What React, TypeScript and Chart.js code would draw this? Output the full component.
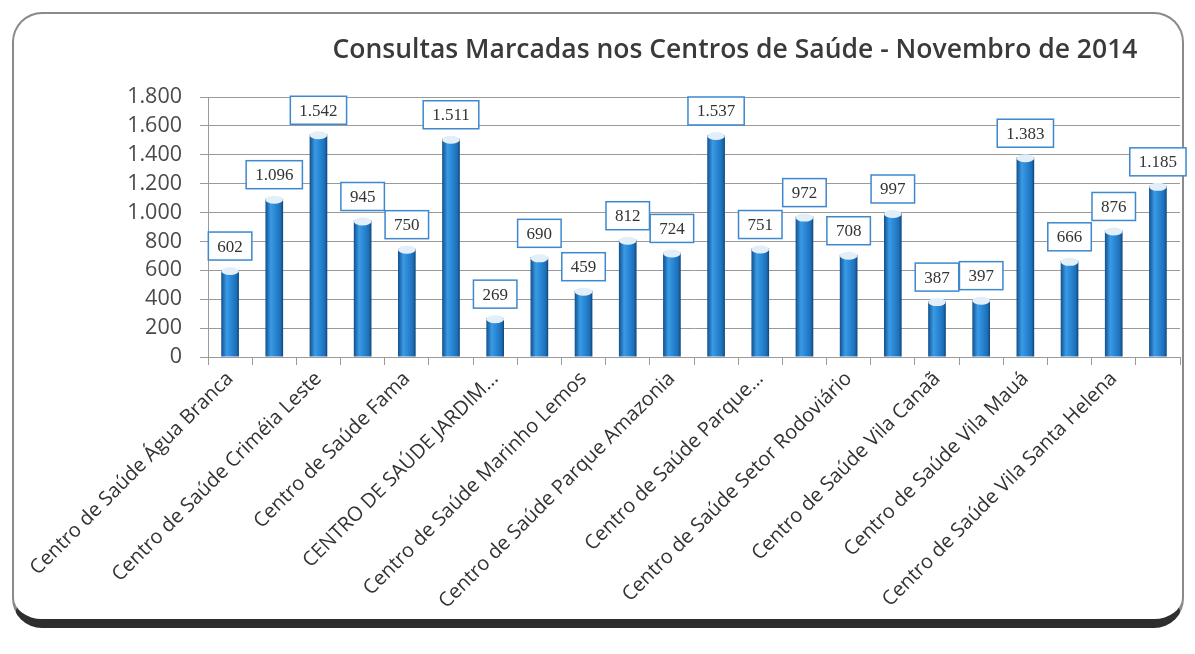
import { useEffect, useRef } from "react";
import { Chart, registerables } from "chart.js";

Chart.register(...registerables);

const TITLE = "Consultas Marcadas nos Centros de Saúde - Novembro de 2014";

// Only every other category name is printed on the axis of the original chart.
const categories = [
  "Centro de Saúde Água Branca", "",
  "Centro de Saúde Criméia Leste", "",
  "Centro de Saúde Fama", "",
  "CENTRO DE SAÚDE JARDIM...", "",
  "Centro de Saúde Marinho Lemos", "",
  "Centro de Saúde Parque Amazonia", "",
  "Centro de Saúde Parque...", "",
  "Centro de Saúde Setor Rodoviário", "",
  "Centro de Saúde Vila Canaã", "",
  "Centro de Saúde Vila Mauá", "",
  "Centro de Saúde Vila Santa Helena", "",
];

const consultas = [
  602, 1096, 1542, 945, 750, 1511, 269, 690, 459, 812, 724,
  1537, 751, 972, 708, 997, 387, 397, 1383, 666, 876, 1185,
];

const yTicks = [0, 200, 400, 600, 800, 1000, 1200, 1400, 1600, 1800];

const fmt = (v: number) =>
  v >= 1000 ? `${Math.floor(v / 1000)}.${String(v % 1000).padStart(3, "0")}` : String(v);

const titlePlugin = {
  id: "offsetTitle",
  afterDraw(chart: any) {
    const { ctx, chartArea } = chart;
    ctx.save();
    ctx.font = "600 26.5px 'Open Sans'";
    ctx.fillStyle = "#3a3a3a";
    ctx.textAlign = "center";
    ctx.textBaseline = "middle";
    ctx.fillText(TITLE, (chartArea.left + chartArea.right) / 2 + 41, 50);
    ctx.restore();
  },
};

const boxesPlugin = {
  id: "valueBoxes",
  afterDatasetsDraw(chart: any) {
    const { ctx } = chart;
    const meta = chart.getDatasetMeta(0);
    ctx.save();
    meta.data.forEach((bar: any, i: number) => {
      const v = consultas[i];
      const w = bar.width;
      // cylinder top
      ctx.beginPath();
      ctx.ellipse(bar.x, bar.y + 1, w / 2, 4, 0, 0, Math.PI * 2);
      ctx.fillStyle = "#e2eff9";
      ctx.fill();
      // label box
      const txt = fmt(v);
      ctx.font = "17px 'Liberation Serif'";
      const tw = ctx.measureText(txt).width;
      const bw = tw + 18;
      const bh = 28;
      const bx = bar.x - bw / 2;
      const by = bar.y - 10 - bh;
      ctx.fillStyle = "#ffffff";
      ctx.fillRect(bx, by, bw, bh);
      ctx.lineWidth = 1.5;
      ctx.strokeStyle = "#3d88cf";
      ctx.strokeRect(bx, by, bw, bh);
      ctx.fillStyle = "#333333";
      ctx.textAlign = "center";
      ctx.textBaseline = "middle";
      ctx.fillText(txt, bar.x, by + bh / 2 + 1);
    });
    ctx.restore();
  },
};

export default function App() {
  const ref = useRef<HTMLCanvasElement | null>(null);

  useEffect(() => {
    if (!ref.current) return;
    const chart = new Chart(ref.current, {
      type: "bar",
      data: {
        labels: categories,
        datasets: [
          {
            label: "Consultas",
            data: consultas,
            barPercentage: 0.4,
            categoryPercentage: 1,
            borderWidth: 0,
            backgroundColor: (c: any) => {
              const chart = c.chart;
              const xs = chart.scales?.x;
              if (!xs || c.type !== "data" || !chart.chartArea) return "#1f7ccc";
              const cx = xs.getPixelForValue(c.dataIndex);
              const w = (xs.width / consultas.length) * 0.4;
              const g = chart.ctx.createLinearGradient(cx - w / 2, 0, cx + w / 2, 0);
              g.addColorStop(0, "#124f8c");
              g.addColorStop(0.3, "#3a9be5");
              g.addColorStop(0.55, "#2a88d6");
              g.addColorStop(0.85, "#1d6fb8");
              g.addColorStop(1, "#104577");
              return g;
            },
          },
        ],
      },
      options: {
        responsive: false,
        animation: false,
        layout: { padding: { top: 97, left: 0, right: 15, bottom: 0 } },
        plugins: {
          legend: { display: false },
          title: { display: false },
          tooltip: { enabled: false },
        },
        scales: {
          x: {
            grid: {
              display: true,
              drawOnChartArea: false,
              tickLength: 8,
              color: "#9a9a9a",
            },
            border: { color: "#9a9a9a" },
            ticks: {
              autoSkip: false,
              maxRotation: 45,
              minRotation: 45,
              padding: 2,
              color: "#333333",
              font: { family: "'Open Sans'", size: 20 },
            },
            afterFit: (s: any) => {
              s.height = 654 - 357;
              s.paddingLeft = 0;
              s.paddingRight = 0;
            },
          },
          y: {
            min: 0,
            max: 1800,
            afterBuildTicks: (s: any) => {
              s.ticks = yTicks.map((v) => ({ value: v }));
            },
            grid: { color: "#9a9a9a", tickLength: 8 },
            border: { color: "#9a9a9a" },
            ticks: {
              autoSkip: false,
              padding: 18,
              color: "#4a4a4a",
              font: { family: "'Open Sans'", size: 21.5, lineHeight: 1 },
              callback: (v: any) => fmt(Number(v)),
            },
            afterFit: (s: any) => {
              s.width = 208;
            },
          },
        },
      },
      plugins: [titlePlugin, boxesPlugin],
    });
    return () => chart.destroy();
  }, []);

  return (
    <div
      style={{
        position: "fixed",
        left: 0,
        top: 0,
        width: 1195,
        height: 654,
        background: "#ffffff",
        overflow: "hidden",
      }}
    >
      <div
        style={{
          position: "absolute",
          left: 12,
          top: 12,
          width: 1172,
          height: 616,
          border: "2px solid #8a8a8a",
          borderBottom: "9px solid #2e2e2e",
          borderRadius: 30,
          boxSizing: "border-box",
        }}
      />
      <canvas
        ref={ref}
        width={1195}
        height={654}
        style={{ position: "absolute", left: 0, top: 0, width: 1195, height: 654 }}
      />
    </div>
  );
}
